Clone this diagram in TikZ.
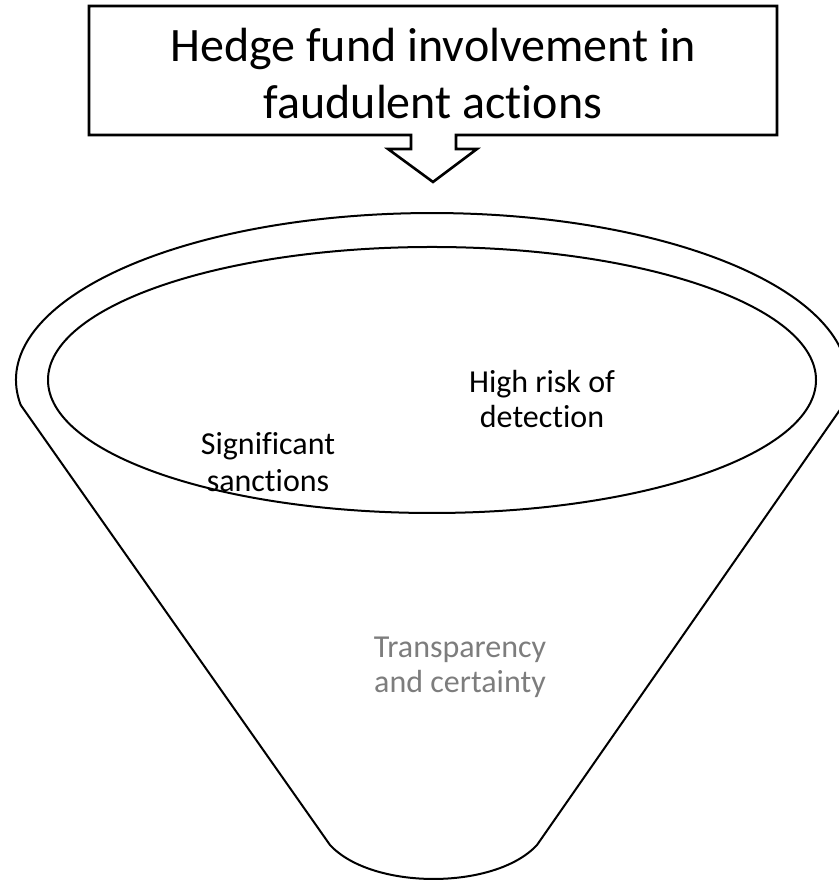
\documentclass[tikz,border=0pt]{standalone}
\usepackage{fontspec}
\setmainfont[Ligatures=NoCommon]{Carlito}
\definecolor{softgray}{RGB}{125,125,125}
\begin{document}
\begin{tikzpicture}[x=1pt,y=1pt,
  outline/.style={draw=black,line width=2pt,line join=round},
  boxline/.style={draw=black,line width=2.6pt,line join=miter},
  label/.style={inner sep=0pt,align=center,font=\fontsize{32}{35}\selectfont},
]
\useasboundingbox (0,0) rectangle (838,882);
% callout box with down arrow
\draw[boxline,fill=white] (89,876) -- (777,876) -- (777,747) -- (456,747) -- (456,733)
  -- (477,733) -- (433,700) -- (388,733) -- (411,733) -- (411,747) -- (89,747) -- cycle;
\node[inner sep=0pt,align=center,font=\fontsize{48}{57}\selectfont,anchor=base] (title) at (433,763)
  {Hedge fund involvement in\\faudulent actions};
% funnel outline
\draw[outline] (20.7,477) arc[start angle=188.6,end angle=-8.6,x radius=416,y radius=167]
  -- (537,37) .. controls (495,-8.3) and (372,-8.3) .. (330,37) -- cycle;
% inner rim
\draw[outline] (432,502) ellipse[x radius=384,y radius=133];
% labels
\node[label,anchor=base] (risk) at (542,454) {High risk of\\detection};
\node[label,anchor=base,font=\fontsize{32}{37}\selectfont] (sanc) at (268,390) {Significant\\sanctions};
\node[label,anchor=base,text=softgray] (transp) at (460,189) {Transparency\\and certainty};
\end{tikzpicture}
\end{document}
